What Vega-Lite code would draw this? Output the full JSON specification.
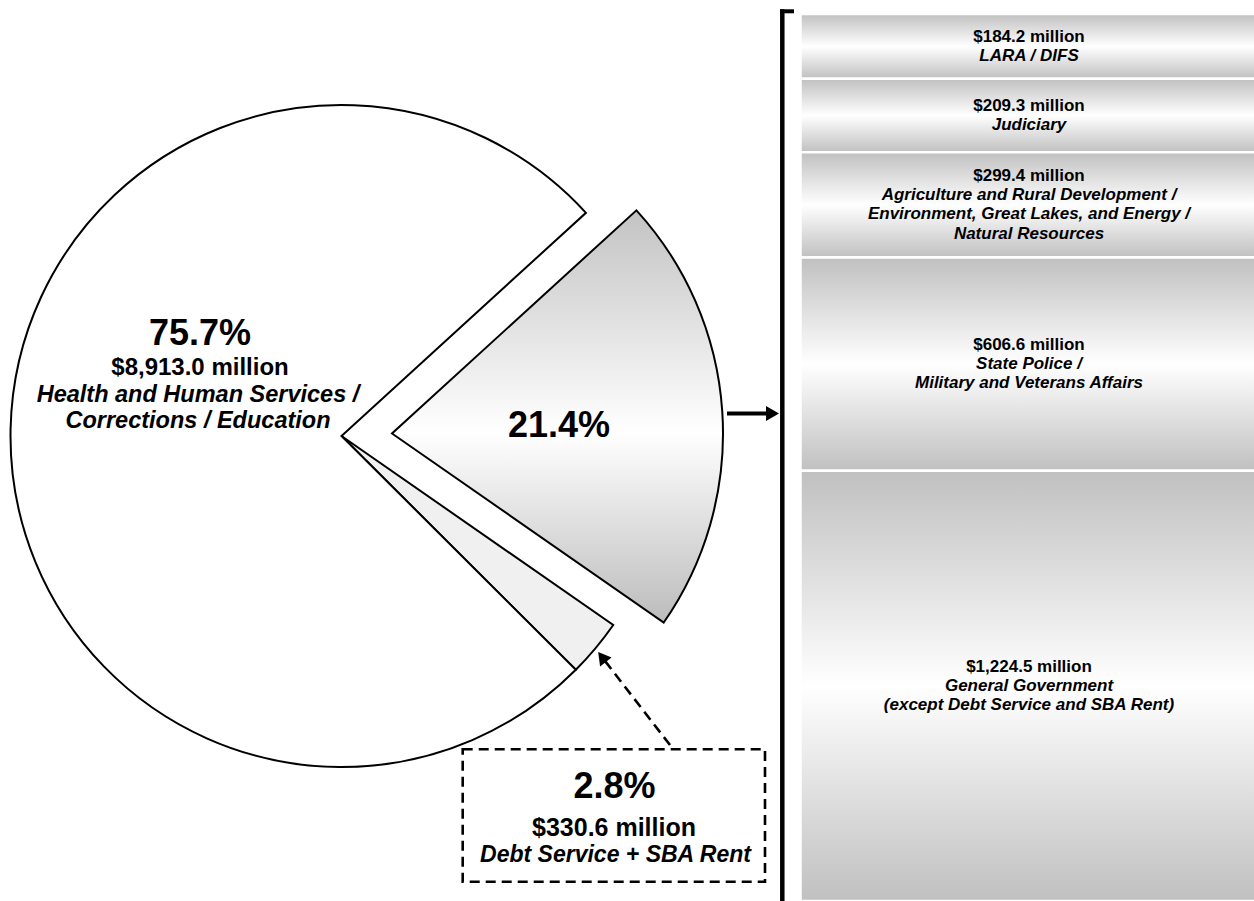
{
 "$schema": "https://vega.github.io/schema/vega-lite/v6.json",
 "width": 1254,
 "height": 901,
 "autosize": {"type": "none"},
 "padding": 0,
 "background": "white",
 "config": {"view": {"stroke": null}, "text": {"font": "Liberation Sans", "fontWeight": "bold", "color": "black"}},
 "datasets": {
  "pie": [
   {"key": "other", "order": 1, "value": 2524.0, "pct": "21.4%", "amount": "", "desc": ""},
   {"key": "debt", "order": 2, "value": 330.6, "pct": "2.8%", "amount": "$330.6 million", "desc": "Debt Service + SBA Rent"},
   {"key": "main", "order": 3, "value": 8913.0, "pct": "75.7%", "amount": "$8,913.0 million", "desc": "Health and Human Services /\nCorrections / Education"}
  ],
  "bar": [
   {"order": 1, "value": 184.2, "amount": "$184.2 million", "desc": "LARA / DIFS"},
   {"order": 2, "value": 209.3, "amount": "$209.3 million", "desc": "Judiciary"},
   {"order": 3, "value": 299.4, "amount": "$299.4 million", "desc": "Agriculture and Rural Development /\nEnvironment, Great Lakes, and Energy /\nNatural Resources"},
   {"order": 4, "value": 606.6, "amount": "$606.6 million", "desc": "State Police /\nMilitary and Veterans Affairs"},
   {"order": 5, "value": 1224.5, "amount": "$1,224.5 million", "desc": "General Government\n(except Debt Service and SBA Rent)"}
  ]
 },
 "resolve": {"scale": {"x": "independent", "y": "independent"}},
 "layer": [
  {
   "data": {"name": "pie"},
   "transform": [{"stack": "value", "groupby": [], "sort": [{"field": "order", "order": "ascending"}], "as": ["t0", "t1"]}],
   "layer": [
    {
     "transform": [{"filter": "datum.key !== 'other'"}],
     "mark": {"type": "arc", "radius": 331, "stroke": "black", "strokeWidth": 2},
     "encoding": {
      "x": {"datum": 341.5, "type": "quantitative", "scale": {"domain": [0, 1254], "nice": false, "zero": false}, "axis": null},
      "y": {"datum": 436, "type": "quantitative", "scale": {"domain": [0, 901], "nice": false, "zero": false, "reverse": true}, "axis": null},
      "theta": {"field": "t0", "type": "quantitative", "stack": null, "scale": {"domain": [0, 11767.6], "range": [0.8308, 7.114]}},
      "theta2": {"field": "t1"},
      "fill": {"field": "key", "type": "nominal", "scale": {"domain": ["main", "debt"], "range": ["#ffffff", "#f0f0f0"]}, "legend": null}
     }
    },
    {
     "transform": [{"filter": "datum.key === 'other'"}],
     "mark": {"type": "arc", "radius": 331, "stroke": "black", "strokeWidth": 2,
       "fill": {"gradient": "linear", "x1": 0, "y1": 0, "x2": 0, "y2": 1, "stops": [{"offset": 0, "color": "#c3c3c3"}, {"offset": 0.54, "color": "#ffffff"}, {"offset": 1, "color": "#bcbcbc"}]}},
     "encoding": {
      "x": {"datum": 392, "type": "quantitative", "scale": {"domain": [0, 1254], "nice": false, "zero": false}, "axis": null},
      "y": {"datum": 433.5, "type": "quantitative", "scale": {"domain": [0, 901], "nice": false, "zero": false, "reverse": true}, "axis": null},
      "theta": {"field": "t0", "type": "quantitative", "stack": null, "scale": {"domain": [0, 11767.6], "range": [0.8308, 7.114]}},
      "theta2": {"field": "t1"}
     }
    },
    {
     "transform": [{"filter": "datum.key === 'main'"}],
     "mark": {"type": "text", "fontSize": 36, "baseline": "alphabetic", "align": "center"},
     "encoding": {
      "x": {"datum": 200, "type": "quantitative", "scale": {"domain": [0, 1254], "nice": false, "zero": false}, "axis": null},
      "y": {"datum": 345, "type": "quantitative", "scale": {"domain": [0, 901], "nice": false, "zero": false, "reverse": true}, "axis": null},
      "text": {"field": "pct"}
     }
    },
    {
     "transform": [{"filter": "datum.key === 'main'"}],
     "mark": {"type": "text", "fontSize": 24, "baseline": "alphabetic", "align": "center"},
     "encoding": {
      "x": {"datum": 200, "type": "quantitative", "scale": {"domain": [0, 1254], "nice": false, "zero": false}, "axis": null},
      "y": {"datum": 375, "type": "quantitative", "scale": {"domain": [0, 901], "nice": false, "zero": false, "reverse": true}, "axis": null},
      "text": {"field": "amount"}
     }
    },
    {
     "transform": [{"filter": "datum.key === 'main'"}],
     "mark": {"type": "text", "fontSize": 23.5, "fontStyle": "italic", "baseline": "alphabetic", "align": "center", "lineBreak": "\n", "lineHeight": 26.5},
     "encoding": {
      "x": {"datum": 198, "type": "quantitative", "scale": {"domain": [0, 1254], "nice": false, "zero": false}, "axis": null},
      "y": {"datum": 401.5, "type": "quantitative", "scale": {"domain": [0, 901], "nice": false, "zero": false, "reverse": true}, "axis": null},
      "text": {"field": "desc"}
     }
    },
    {
     "transform": [{"filter": "datum.key === 'other'"}],
     "mark": {"type": "text", "fontSize": 36, "baseline": "alphabetic", "align": "center"},
     "encoding": {
      "x": {"datum": 559, "type": "quantitative", "scale": {"domain": [0, 1254], "nice": false, "zero": false}, "axis": null},
      "y": {"datum": 436.5, "type": "quantitative", "scale": {"domain": [0, 901], "nice": false, "zero": false, "reverse": true}, "axis": null},
      "text": {"field": "pct"}
     }
    },
    {
     "data": {"values": [{}]},
     "mark": {"type": "rect", "fill": "white", "fillOpacity": 0, "stroke": "black", "strokeWidth": 2.6, "strokeDash": [10, 6]},
     "encoding": {
      "x": {"datum": 462.7, "type": "quantitative", "scale": {"domain": [0, 1254], "nice": false, "zero": false}, "axis": null},
      "x2": {"datum": 765},
      "y": {"datum": 749.3, "type": "quantitative", "scale": {"domain": [0, 901], "nice": false, "zero": false, "reverse": true}, "axis": null},
      "y2": {"datum": 881.7}
     }
    },
    {
     "transform": [{"filter": "datum.key === 'debt'"}],
     "mark": {"type": "text", "fontSize": 36, "baseline": "alphabetic", "align": "center"},
     "encoding": {
      "x": {"datum": 614.5, "type": "quantitative", "scale": {"domain": [0, 1254], "nice": false, "zero": false}, "axis": null},
      "y": {"datum": 798, "type": "quantitative", "scale": {"domain": [0, 901], "nice": false, "zero": false, "reverse": true}, "axis": null},
      "text": {"field": "pct"}
     }
    },
    {
     "transform": [{"filter": "datum.key === 'debt'"}],
     "mark": {"type": "text", "fontSize": 25, "baseline": "alphabetic", "align": "center"},
     "encoding": {
      "x": {"datum": 614, "type": "quantitative", "scale": {"domain": [0, 1254], "nice": false, "zero": false}, "axis": null},
      "y": {"datum": 836, "type": "quantitative", "scale": {"domain": [0, 901], "nice": false, "zero": false, "reverse": true}, "axis": null},
      "text": {"field": "amount"}
     }
    },
    {
     "transform": [{"filter": "datum.key === 'debt'"}],
     "mark": {"type": "text", "fontSize": 23, "fontStyle": "italic", "baseline": "alphabetic", "align": "center"},
     "encoding": {
      "x": {"datum": 615.5, "type": "quantitative", "scale": {"domain": [0, 1254], "nice": false, "zero": false}, "axis": null},
      "y": {"datum": 861.7, "type": "quantitative", "scale": {"domain": [0, 901], "nice": false, "zero": false, "reverse": true}, "axis": null},
      "text": {"field": "desc"}
     }
    },
    {
     "data": {"values": [{}]},
     "mark": {"type": "rule", "color": "black", "strokeWidth": 2.6, "strokeDash": [10, 6]},
     "encoding": {
      "x": {"datum": 670, "type": "quantitative", "scale": {"domain": [0, 1254], "nice": false, "zero": false}, "axis": null},
      "x2": {"datum": 605},
      "y": {"datum": 745, "type": "quantitative", "scale": {"domain": [0, 901], "nice": false, "zero": false, "reverse": true}, "axis": null},
      "y2": {"datum": 661}
     }
    },
    {
     "data": {"values": [{}]},
     "mark": {"type": "point", "shape": "triangle-up", "filled": true, "color": "black", "opacity": 1, "size": 210, "angle": 322.3},
     "encoding": {
      "x": {"datum": 602, "type": "quantitative", "scale": {"domain": [0, 1254], "nice": false, "zero": false}, "axis": null},
      "y": {"datum": 657, "type": "quantitative", "scale": {"domain": [0, 901], "nice": false, "zero": false, "reverse": true}, "axis": null}
     }
    },
    {
     "data": {"values": [{}]},
     "mark": {"type": "rule", "color": "black", "strokeWidth": 4},
     "encoding": {
      "x": {"datum": 727, "type": "quantitative", "scale": {"domain": [0, 1254], "nice": false, "zero": false}, "axis": null},
      "x2": {"datum": 770},
      "y": {"datum": 413.5, "type": "quantitative", "scale": {"domain": [0, 901], "nice": false, "zero": false, "reverse": true}, "axis": null}
     }
    },
    {
     "data": {"values": [{}]},
     "mark": {"type": "point", "shape": "triangle-right", "filled": true, "color": "black", "opacity": 1, "size": 225},
     "encoding": {
      "x": {"datum": 772.5, "type": "quantitative", "scale": {"domain": [0, 1254], "nice": false, "zero": false}, "axis": null},
      "y": {"datum": 413.5, "type": "quantitative", "scale": {"domain": [0, 901], "nice": false, "zero": false, "reverse": true}, "axis": null}
     }
    },
    {
     "data": {"values": [{}]},
     "mark": {"type": "rule", "color": "black", "strokeWidth": 4.5},
     "encoding": {
      "x": {"datum": 782.3, "type": "quantitative", "scale": {"domain": [0, 1254], "nice": false, "zero": false}, "axis": null},
      "y": {"datum": 9.3, "type": "quantitative", "scale": {"domain": [0, 901], "nice": false, "zero": false, "reverse": true}, "axis": null},
      "y2": {"datum": 910}
     }
    },
    {
     "data": {"values": [{}]},
     "mark": {"type": "rule", "color": "black", "strokeWidth": 4},
     "encoding": {
      "x": {"datum": 780, "type": "quantitative", "scale": {"domain": [0, 1254], "nice": false, "zero": false}, "axis": null},
      "x2": {"datum": 794},
      "y": {"datum": 11.3, "type": "quantitative", "scale": {"domain": [0, 901], "nice": false, "zero": false, "reverse": true}, "axis": null}
     }
    }
   ]
  },
  {
   "data": {"name": "bar"},
   "transform": [
    {"stack": "value", "groupby": [], "sort": [{"field": "order", "order": "ascending"}], "as": ["v0", "v1"]},
    {"calculate": "length(split(datum.desc, '\\n'))", "as": "nlines"},
    {"calculate": "(datum.v0 + datum.v1) / 2 - datum.nlines * 27.3", "as": "labelPos"},
    {"calculate": "'\\n' + datum.desc", "as": "descText"}
   ],
   "layer": [
    {
     "mark": {"type": "rect", "stroke": "white", "strokeWidth": 2.5,
       "fill": {"gradient": "linear", "x1": 0, "y1": 0, "x2": 0, "y2": 1, "stops": [{"offset": 0, "color": "#c0c0c0"}, {"offset": 0.5, "color": "#ffffff"}, {"offset": 1, "color": "#c0c0c0"}]}},
     "encoding": {
      "x": {"datum": 800.5, "type": "quantitative", "scale": {"domain": [0, 1254], "nice": false, "zero": false}, "axis": null},
      "x2": {"datum": 1258},
      "y": {"field": "v0", "type": "quantitative", "stack": null, "scale": {"domain": [-39.8, 2524], "nice": false, "zero": false, "reverse": true}, "axis": null},
      "y2": {"field": "v1"}
     }
    },
    {
     "mark": {"type": "text", "fontSize": 17, "baseline": "middle", "align": "center"},
     "encoding": {
      "x": {"datum": 1029, "type": "quantitative", "scale": {"domain": [0, 1254], "nice": false, "zero": false}, "axis": null},
      "y": {"field": "labelPos", "type": "quantitative", "scale": {"domain": [-39.8, 2524], "nice": false, "zero": false, "reverse": true}, "axis": null},
      "text": {"field": "amount"}
     }
    },
    {
     "mark": {"type": "text", "fontSize": 17, "fontStyle": "italic", "baseline": "middle", "align": "center", "lineBreak": "\n", "lineHeight": 19.2},
     "encoding": {
      "x": {"datum": 1029, "type": "quantitative", "scale": {"domain": [0, 1254], "nice": false, "zero": false}, "axis": null},
      "y": {"field": "labelPos", "type": "quantitative", "scale": {"domain": [-39.8, 2524], "nice": false, "zero": false, "reverse": true}, "axis": null},
      "text": {"field": "descText"}
     }
    }
   ]
  }
 ]
}
